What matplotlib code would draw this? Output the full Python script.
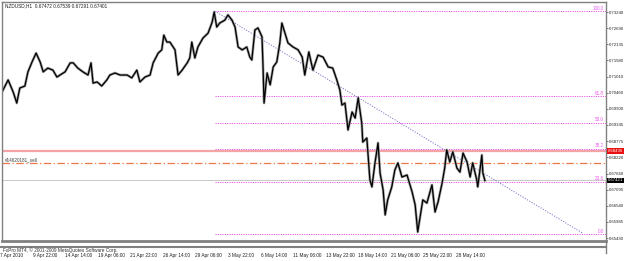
import matplotlib.pyplot as plt
import matplotlib.transforms as mtransforms
from matplotlib.lines import Line2D

plt.rcParams['font.family'] = ['Liberation Sans', 'DejaVu Sans']

# header / data
title_text = 'NZDUSD,H1  0.67472 0.67539 0.67291 0.67401'
copyright_text = 'FxPro MT4, \u00a9 2001-2009 MetaQuotes Software Corp.'

bar_idx = [0, 12, 22, 29, 35, 45, 51, 59, 67, 75, 81, 90, 100, 108, 114, 124,
           134, 140, 149, 159, 169, 175, 179, 187, 196, 206, 212, 222, 232, 246,
           255, 265, 271, 281, 291, 297, 307, 314, 318, 324, 330, 340, 346, 354,
           364, 369, 373, 379, 385, 395, 405, 413, 417, 422, 428, 438, 444, 452,
           458, 464, 472, 481, 487, 491, 497, 503, 511, 513, 515, 521, 527, 533,
           540, 546, 550, 556, 562, 572, 582, 590, 595, 603, 611, 621, 631, 641,
           650, 658, 664, 668, 674, 680, 688, 694, 700, 707, 709, 717, 723, 727,
           733, 739, 743, 749, 753, 758, 766, 772, 778, 786, 796, 806, 812, 817,
           823, 827, 835, 845, 851, 857, 865, 870, 874, 880, 886, 894, 900, 906,
           914, 920, 925, 933, 935, 943, 945, 949]
close = [0.7048, 0.7090, 0.7048, 0.7010, 0.7062, 0.7069, 0.7118, 0.7152, 0.7183,
         0.7152, 0.7118, 0.7131, 0.7124, 0.7100, 0.7107, 0.7118, 0.7149, 0.7149,
         0.7131, 0.7118, 0.7107, 0.7149, 0.7079, 0.7083, 0.7069, 0.7090, 0.7107,
         0.7114, 0.7107, 0.7107, 0.7097, 0.7124, 0.7083, 0.7100, 0.7107, 0.7149,
         0.7183, 0.7194, 0.7245, 0.7221, 0.7221, 0.7194, 0.7107, 0.7124, 0.7149,
         0.7166, 0.7221, 0.7166, 0.7204, 0.7235, 0.7252, 0.7290, 0.7325, 0.7273,
         0.7287, 0.7297, 0.7315, 0.7297, 0.7273, 0.7204, 0.7194, 0.7204, 0.7169,
         0.7159, 0.7263, 0.7270, 0.7239, 0.7135, 0.7010, 0.7114, 0.7073, 0.7135,
         0.7152, 0.7218, 0.7287, 0.7252, 0.7218, 0.7204, 0.7194, 0.7169, 0.7107,
         0.7187, 0.7124, 0.7176, 0.7169, 0.7135, 0.7131, 0.7090, 0.7055, 0.7003,
         0.7010, 0.6917, 0.6979, 0.6958, 0.7028, 0.6941, 0.6875, 0.6889, 0.6744,
         0.6720, 0.6803, 0.6872, 0.6768, 0.6709, 0.6623, 0.6675, 0.6720, 0.6778,
         0.6803, 0.6754, 0.6761, 0.6702, 0.6657, 0.6564, 0.6630, 0.6675, 0.6664,
         0.6727, 0.6633, 0.6668, 0.6734, 0.6785, 0.6848, 0.6806, 0.6841, 0.6785,
         0.6771, 0.6837, 0.6806, 0.6754, 0.6803, 0.6744, 0.6720, 0.6830, 0.6768,
         0.6742]

price_ticks = [0.73240, 0.72690, 0.72135, 0.71580, 0.71010, 0.70460, 0.69900,
               0.69345, 0.68775, 0.68220, 0.67660, 0.67095, 0.66540, 0.65985,
               0.65430]
time_ticks = [0, 64, 128, 192, 256, 320, 384, 448, 512, 576, 640, 704, 768, 832, 896]
time_labels = ['7 Apr 2010', '9 Apr 22:00', '14 Apr 14:00', '19 Apr 06:00',
               '21 Apr 22:00', '26 Apr 14:00', '29 Apr 06:00', '3 May 22:00',
               '6 May 14:00', '11 May 06:00', '13 May 22:00', '18 May 14:00',
               '21 May 06:00', '25 May 22:00', '28 May 14:00']

fib_high, fib_low = 0.73275, 0.65565
fib_pct = [100.0, 61.8, 50.0, 38.2, 23.6, 0.0]
fib_start = 418
trend_x = [418, 1141]
trend_y = [0.73285, 0.6560]
alert_price = 0.68436
order_price = 0.6804
order_label = '#14620181_sell'
bid_price = 0.67421

W, H = 625, 261
fig = plt.figure(figsize=(W / 100, H / 100), dpi=100)
ax = fig.add_axes([2 / W, 1 - 241 / H, 604 / W, 239.5 / H])
ax.set_xlim(0, 1187)
ax.set_ylim(0.65327, 0.73614)

for s in ax.spines.values():
    s.set_color('#808080')
    s.set_linewidth(1)
ax.spines['bottom'].set_linewidth(2)

# horizontal objects
ax.axhline(bid_price, color='#c8c8c8', lw=0.7)
ax.axhline(alert_price, color='#f4a4a4', lw=1.6)
ax.axhline(order_price, color='#f07848', lw=0.9, ls=(0, (6, 2, 1, 2)))
ax.text(6, order_price + 0.0002, order_label, fontsize=3.3, color='#404040',
        va='bottom', ha='left')

# fibonacci levels
for pct in fib_pct:
    lvl = fib_low + (fib_high - fib_low) * pct / 100
    ax.plot([fib_start, 1187], [lvl, lvl], color='#ee55ee', lw=0.7, ls=(0, (1.2, 1.2)))
    ax.text(1183, lvl + 0.0002, f'{pct:.1f}', fontsize=3.3, color='#ee55ee',
            ha='right', va='bottom')

# trend line
ax.plot(trend_x, trend_y, color='#7777cc', lw=0.7, ls=(0, (1.2, 1.5)))

# price bars (approximated by close path)
ax.plot(bar_idx, close, color='#a0a0a0', lw=1.9)
ax.plot(bar_idx, close, color='black', lw=0.9)

# right price scale
ax.yaxis.tick_right()
ax.set_yticks(price_ticks)
ax.set_yticklabels([f'{p:.5f}' for p in price_ticks])
ax.tick_params(axis='y', length=1.5, width=0.6, color='#606060', pad=0.8,
               labelsize=3.1, labelcolor='#202020')

ax.set_xticks(time_ticks)
ax.set_xticklabels(time_labels, ha='left')
ax.tick_params(axis='x', length=0, pad=9, labelsize=3.4, labelcolor='#202020')
shift = mtransforms.ScaledTranslation(-2 / 100, 0, fig.dpi_scale_trans)
for lbl in ax.get_xticklabels():
    lbl.set_transform(lbl.get_transform() + shift)

# price boxes
for price, face in [(alert_price, '#e81010'), (bid_price, 'black')]:
    ax.text(1.003, price, f'{price:.5f}', transform=ax.get_yaxis_transform(),
            fontsize=3.1, color='white', va='center', ha='left',
            bbox=dict(boxstyle='square,pad=0.2', fc=face, ec='none'))

# header and footer
fig.text(5 / W, 1 - 6 / H, title_text, fontsize=3.4, color='#202020', va='center')
fig.add_artist(Line2D([0, 606 / W], [1 - 246.5 / H] * 2, color='#808080', lw=1.5))
fig.add_artist(Line2D([606 / W] * 2, [1 - 241 / H, 1 - 253 / H], color='#808080', lw=1))
fig.text(3 / W, 1 - 247.5 / H, copyright_text, fontsize=3.4, color='#303030', va='top')

fig.savefig('out.png', dpi=100, facecolor='white')
